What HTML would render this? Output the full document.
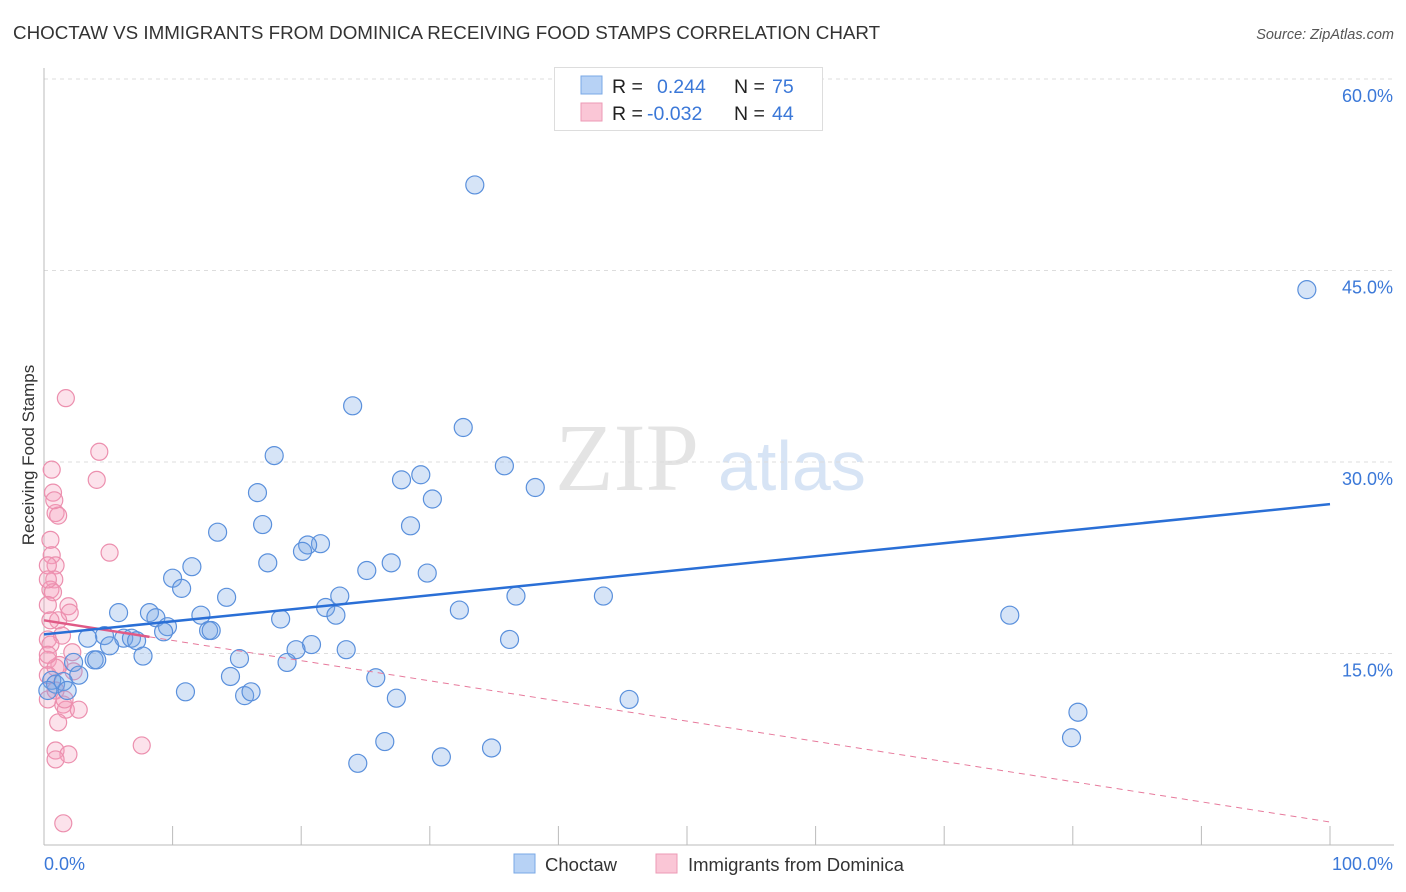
<!DOCTYPE html>
<html><head><meta charset="utf-8"><style>
body{margin:0;background:#fff;font-family:"Liberation Sans",sans-serif;}
svg{display:block}
</style></head><body>
<svg id="chart" width="1406" height="892" xmlns="http://www.w3.org/2000/svg">
<text x="13" y="39" font-size="18.8" fill="#333">CHOCTAW VS IMMIGRANTS FROM DOMINICA RECEIVING FOOD STAMPS CORRELATION CHART</text>
<text x="1394" y="39" font-size="14.5" fill="#555" font-style="italic" text-anchor="end">Source: ZipAtlas.com</text>
<text x="555" y="490" font-size="96" fill="#e4e4e4" font-family="Liberation Serif,serif">ZIP</text>
<text x="718" y="490" font-size="70" fill="#d7e4f5">atlas</text>
<text transform="translate(34,455) rotate(-90)" font-size="17" fill="#333" text-anchor="middle">Receiving Food Stamps</text>
<g id="grid"></g><g id="axes"></g><g id="trend"></g><g id="pts"></g>
<g>
<rect x="554.5" y="67.5" width="268" height="63" fill="#fff" stroke="#ddd"/>
<rect x="581" y="76" width="21" height="18" fill="#b7d2f5" stroke="#7aa8e6"/>
<rect x="581" y="103" width="21" height="18" fill="#fac6d6" stroke="#ec9ab5"/>
<text x="612" y="93" font-size="19.5" fill="#222">R =</text><text x="657" y="93" font-size="19.5" fill="#3b78d8">0.244</text>
<text x="734" y="93" font-size="19.5" fill="#222">N =</text><text x="772" y="93" font-size="19.5" fill="#3b78d8">75</text>
<text x="612" y="120" font-size="19.5" fill="#222">R =</text><text x="647" y="120" font-size="19.5" fill="#3b78d8">-0.032</text>
<text x="734" y="120" font-size="19.5" fill="#222">N =</text><text x="772" y="120" font-size="19.5" fill="#3b78d8">44</text>
</g>
<g>
<rect x="514" y="854" width="21" height="19" fill="#b7d2f5" stroke="#7aa8e6"/>
<text x="545" y="871" font-size="18.5" fill="#333">Choctaw</text>
<rect x="656" y="854" width="21" height="19" fill="#fac6d6" stroke="#ec9ab5"/>
<text x="688" y="871" font-size="18.5" fill="#333">Immigrants from Dominica</text>
</g>
</svg>
<script>
const yTicks=[15,30,45,60];
const yTickLabels=["15.0%","30.0%","45.0%","60.0%"];
const xTickLabels=["0.0%","100.0%"];
const choctawX=[33.5,98.2,24.0,32.6,17.9,35.8,29.3,27.8,38.2,30.2,16.6,17.0,28.5,13.5,21.5,20.5,20.1,17.4,27.0,11.5,25.1,29.8,10.0,10.7,23.0,36.7,43.5,14.2,5.8,32.3,75.1,8.2,8.7,12.2,21.9,22.7,18.4,12.8,13.0,9.6,9.3,4.7,3.4,6.2,6.8,7.2,5.1,20.8,19.6,23.5,36.2,7.7,3.9,4.1,15.2,18.9,2.3,2.7,0.6,0.9,1.5,1.8,25.8,14.5,11.0,15.6,16.1,45.5,27.4,80.4,26.5,34.8,30.9,24.4,79.9,0.3];
const choctawY=[51.7,43.5,34.4,32.7,30.5,29.7,29.0,28.6,28.0,27.1,27.6,25.1,25.0,24.5,23.6,23.5,23.0,22.1,22.1,21.8,21.5,21.3,20.9,20.1,19.5,19.5,19.5,19.4,18.2,18.4,18.0,18.2,17.8,18.0,18.6,18.0,17.7,16.8,16.8,17.1,16.7,16.4,16.2,16.2,16.2,16.0,15.6,15.7,15.3,15.3,16.1,14.8,14.5,14.5,14.6,14.3,14.3,13.3,12.9,12.6,12.8,12.1,13.1,13.2,12.0,11.7,12.0,11.4,11.5,10.4,8.1,7.6,6.9,6.4,8.4,12.1];
const domX=[1.7,4.3,4.1,0.7,0.9,1.1,5.1,0.5,0.6,0.9,0.3,0.8,0.5,0.7,0.3,1.9,2.0,1.1,1.4,0.3,0.5,2.2,0.3,1.2,2.3,0.9,0.3,1.5,1.7,2.7,1.1,7.6,0.9,1.9,0.9,1.5,0.6,0.8,0.3,0.5,0.3,0.9,1.6,0.3];
const domY=[35.0,30.8,28.6,27.6,26.0,25.8,22.9,23.9,22.7,21.9,21.9,20.8,20.0,19.8,18.8,18.7,18.2,17.6,16.4,16.1,15.7,15.1,14.5,14.1,13.6,13.9,11.4,11.0,10.6,10.6,9.6,7.8,7.4,7.1,6.7,1.7,29.4,27.0,20.8,17.6,13.3,12.1,11.4,14.9];
const blueTrend=[16.5,26.7];
const pinkTrend=[17.6,1.8];
const pinkSolidEnd=8.2;
const X0=44,X1=1330,Y0=845,YP=12.767;
const sx=v=>X0+(X1-X0)*v/100, sy=v=>Y0-v*YP;
const NS="http://www.w3.org/2000/svg";
function mk(p,t,a){const e=document.createElementNS(NS,t);for(const k in a)e.setAttribute(k,a[k]);p.appendChild(e);return e;}
const grid=document.getElementById('grid'),axes=document.getElementById('axes'),trend=document.getElementById('trend'),pts=document.getElementById('pts');
yTicks.forEach((t,i)=>{
 const l=mk(grid,'line',{x1:X0,x2:1394,y1:sy(t),y2:sy(t),stroke:'#ddd','stroke-dasharray':'4,4'});
 
 
 const tx=mk(axes,'text',{x:1393,y:sy(t)+23,'font-size':18,fill:'#3b78d8','text-anchor':'end'});
 tx.textContent=yTickLabels[i];
 
 
});
const ya=mk(axes,'line',{x1:X0,x2:X0,y1:68,y2:Y0,stroke:'#bbb'});


const xa=mk(axes,'line',{x1:X0,x2:1394,y1:Y0,y2:Y0,stroke:'#bbb'});


for(let i=1;i<=10;i++){const t=mk(axes,'line',{x1:sx(i*10),x2:sx(i*10),y1:826,y2:Y0,stroke:'#bbb'});
 
 }
[[0,'start',X0],[1,'end',1393]].forEach(([i,a,x])=>{const t=mk(axes,'text',{x:x,y:870,'font-size':18,fill:'#3b78d8','text-anchor':a});t.textContent=xTickLabels[i];
 
 });
domX.forEach((x,i)=>{const c=mk(pts,'circle',{cx:sx(x),cy:sy(domY[i]),r:8.5,fill:'rgba(246,160,190,0.3)',stroke:'#ec8fae','stroke-width':1.2});
 
 });
choctawX.forEach((x,i)=>{const c=mk(pts,'circle',{cx:sx(x),cy:sy(choctawY[i]),r:9,fill:'rgba(120,165,230,0.3)',stroke:'#5a90dc','stroke-width':1.2});
 
 });
const pv=x=>pinkTrend[0]+(pinkTrend[1]-pinkTrend[0])*x/100;
const pd=mk(pts,'line',{x1:sx(pinkSolidEnd),y1:sy(pv(pinkSolidEnd)),x2:sx(100),y2:sy(pinkTrend[1]),stroke:'#e77a9c','stroke-width':1,'stroke-dasharray':'6,5'});


const ps=mk(pts,'line',{x1:sx(0),y1:sy(pinkTrend[0]),x2:sx(pinkSolidEnd),y2:sy(pv(pinkSolidEnd)),stroke:'#e05a86','stroke-width':2.5});


const bl=mk(pts,'line',{x1:sx(0),y1:sy(blueTrend[0]),x2:sx(100),y2:sy(blueTrend[1]),stroke:'#2a6fd6','stroke-width':2.5});


</script>
</body></html>
